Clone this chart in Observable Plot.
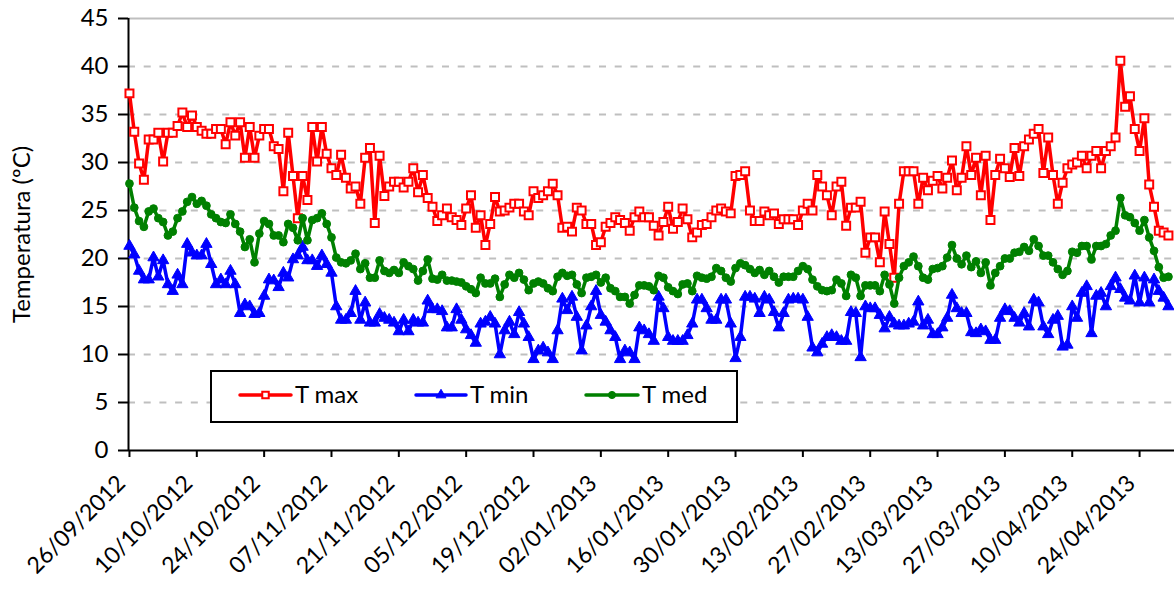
<!DOCTYPE html>
<html>
<head>
<meta charset="utf-8">
<script src="https://cdn.jsdelivr.net/npm/d3@7"></script>
<script src="https://cdn.jsdelivr.net/npm/@observablehq/plot@0.6"></script>
<style>
  html, body { margin: 0; padding: 0; background: #fff; }
  #wrap { position: relative; width: 1174px; height: 589px; font-family: Lato, "Open Sans", sans-serif; }
  #legend { position: absolute; left: 210px; top: 370px; }
</style>
</head>
<body>
<div id="wrap"></div>
<script>
// ---- Data (daily values from 26/09/2012) ----
const startDate = "2012-09-26";
const seriesNames = ["T max", "T min", "T med"];
const seriesColors = ["#FF0000", "#0000FF", "#008000"];
const yTicks = [0, 5, 10, 15, 20, 25, 30, 35, 40, 45];
const tickEveryDays = 14;

const tMax = [
  37.2, 33.2, 29.9, 28.2, 32.4, 32.4, 33.1, 30.1, 33.1, 33.1, 33.8, 35.2, 33.7, 34.9, 33.7, 33.3, 33.0, 33.0, 33.5, 33.5,
  31.9, 34.2, 32.8, 34.2, 30.5, 33.7, 30.5, 32.8, 33.5, 33.5, 31.7, 31.4, 27.0, 33.1, 28.6, 24.2, 28.6, 26.1, 33.7, 30.1,
  33.7, 30.9, 29.4, 28.7, 30.8, 28.4, 27.3, 27.5, 25.7, 30.5, 31.5, 23.7, 30.7, 26.5, 27.5, 28.0, 28.0, 27.4, 28.0, 29.4,
  26.9, 28.7, 26.3, 25.4, 23.9, 24.5, 25.2, 24.3, 24.0, 23.5, 25.2, 26.6,
  23.2, 24.5, 21.4, 23.6, 26.4, 24.9, 25.0, 25.3, 25.7, 25.7, 24.9, 24.5, 27.0, 26.3, 26.6, 27.0, 27.8, 26.6, 23.2, 23.3,
  22.8, 25.3, 25.0, 23.6, 23.6, 21.4, 21.7, 23.3, 23.7, 24.3, 24.0, 23.7,
  22.9, 24.3, 24.9, 24.3, 24.3, 23.4, 22.4, 23.8, 25.4, 23.1, 23.8, 25.2, 24.1, 22.2, 22.7, 23.5, 23.6, 24.3, 25.0, 25.2,
  24.9, 24.7, 28.6, 28.7, 29.1, 25.0, 23.9, 23.9, 24.9, 24.5, 24.7, 23.6, 24.1, 24.1, 24.1,
  23.5, 25.0, 25.7, 25.0, 28.7, 27.5, 26.6, 24.5, 27.5, 28.0, 23.4, 25.3, 25.3, 25.9, 20.6, 22.2, 22.2, 19.6, 24.9, 21.5,
  18.0, 25.7, 29.1, 29.1, 29.1, 25.7, 28.4, 27.1, 28.1, 28.6, 27.3, 28.4, 30.2, 27.1, 28.4, 31.7, 28.7, 30.5, 26.6, 30.7,
  24.0, 28.7, 30.4, 29.4, 28.5, 31.5, 28.6, 31.7, 32.4, 33.0, 33.5, 28.9, 32.6, 28.7, 25.7, 27.9, 29.4, 29.8, 30.0, 30.7,
  29.4, 30.7, 31.2, 29.4, 31.2, 31.7, 32.6, 40.6, 35.8, 36.9, 33.5, 31.2, 34.6, 27.7, 25.4, 22.9, 22.7, 22.4
];

const tMin = [
  21.3, 20.4, 18.7, 17.8, 17.8, 20.1, 18.1, 19.8, 17.3, 16.6, 18.3, 17.3, 21.5, 20.6, 20.3, 20.3, 21.5, 19.4, 17.3, 17.8,
  17.3, 18.7, 17.3,
  14.3, 15.2, 15.0, 14.2, 14.3, 16.1, 17.8, 17.7, 17.0, 18.5, 18.0, 19.9, 20.3, 21.2, 19.8, 19.8, 19.2, 20.3, 19.4, 18.5,
  15.0, 13.6, 13.6, 14.3, 16.6, 13.6, 15.4, 13.3, 13.3, 14.2, 13.8, 13.6, 13.3, 12.4, 13.6, 12.4, 13.6, 13.3, 13.3,
  15.6, 14.7, 14.7, 14.5, 12.8, 12.8, 14.7, 13.6, 12.6, 12.0, 11.2, 13.2, 13.4, 13.9, 13.2, 10.0, 12.5, 13.4, 12.1, 14.4,
  13.2, 11.8, 9.5, 10.4, 10.7, 10.2, 9.5, 12.5, 15.8, 14.6, 16.0, 13.9, 10.4, 13.0, 15.0, 16.6, 14.1, 13.4, 12.5, 11.8,
  9.5, 10.4, 10.2, 9.5, 12.8,
  12.5, 12.1, 11.4, 16.0, 14.8, 11.8, 11.4, 11.4, 11.4, 12.0, 13.2, 15.7, 15.7, 14.8, 13.6, 13.6, 15.7, 15.7, 13.2, 9.6,
  11.8, 16.0, 16.0, 15.8, 14.3, 16.0, 15.7, 14.4, 12.8, 14.3, 15.7, 15.8, 15.8, 15.7, 13.9,
  10.7, 10.2, 11.1, 11.8, 12.0, 11.8, 11.4, 11.4, 14.4, 14.3, 9.7, 15.0, 14.8, 14.8, 14.1, 12.7, 13.9, 13.2,
  13.0, 13.0, 13.2, 13.4, 15.5, 13.0, 13.6, 12.1, 12.1, 12.8, 13.8, 16.2, 14.8, 14.3, 14.3, 12.3, 12.2,
  12.6, 12.4, 11.5, 11.5, 13.8, 14.7, 14.5, 13.8, 13.3, 14.3, 12.9, 15.7, 15.4, 12.9, 12.1, 13.6, 14.0, 10.8, 11.0, 15.0,
  13.8, 16.4, 17.1, 12.2, 16.1, 16.4, 15.0, 17.1, 18.0, 16.8, 15.9, 15.6, 18.2, 15.4, 18.0, 15.4, 17.8, 16.6, 15.9, 15.0
];

const tMed = [
  27.8, 25.3, 23.9, 23.3, 24.9, 25.2, 24.2, 23.8, 22.4, 22.8, 24.2, 24.9, 25.9, 26.4, 25.7, 26.0, 25.5, 24.6, 24.2, 23.8,
  23.7, 24.6, 23.6, 22.8, 21.2, 22.0, 19.6, 22.6, 23.9, 23.6, 22.4, 22.4, 21.7, 23.6, 23.2, 21.9,
  24.2, 21.9, 24.0, 24.2, 24.7, 23.6, 22.2, 20.1, 19.6, 19.5, 19.8, 20.5, 18.9, 19.5, 18.0, 18.0, 19.8, 18.7, 18.5, 18.8,
  18.5, 19.6, 19.2, 18.9, 17.7, 18.7, 19.9, 17.9, 17.8, 18.3, 17.7, 17.7, 17.6, 17.5, 17.1, 16.8,
  16.4, 18.0, 17.4, 17.4, 17.9, 16.0, 17.3, 18.3, 18.0, 18.5, 17.8, 16.7, 17.4, 17.6, 17.4, 16.9, 16.6, 18.1, 18.5, 18.2,
  18.3, 17.3, 16.4, 18.0, 18.1, 18.3, 17.5, 18.0, 16.9, 16.6, 16.0, 16.0, 15.3, 16.2, 17.2,
  17.2, 17.1, 16.7, 18.2, 18.0, 17.0, 16.6, 16.3, 17.3, 17.4, 16.6, 18.2, 18.0, 17.9, 18.1, 19.0, 18.7, 18.0, 17.6, 19.0,
  19.5, 19.3, 18.9, 18.5, 18.8, 18.3, 18.7, 18.1, 17.5, 18.1, 18.1, 18.1, 18.7, 19.2,
  18.9, 17.8, 17.1, 16.7, 16.6, 16.7, 17.8, 17.4, 16.1, 18.3, 18.0, 16.1, 17.2, 17.2, 17.2, 16.6, 18.3, 17.3, 15.3, 18.0,
  19.2, 19.6, 20.2, 19.2, 18.0, 17.8, 18.9, 19.0,
  19.2, 20.1, 21.4, 20.0, 19.4, 20.3, 19.1, 19.7, 18.5, 19.6, 17.2, 18.5, 19.2, 20.0, 20.0, 20.6, 20.7, 21.2, 20.8, 22.0,
  21.3, 20.3, 20.3, 19.6, 18.9, 18.3, 18.7, 20.7, 20.6, 21.3, 21.3, 19.9, 21.3, 21.3, 21.5, 22.4, 22.9, 26.3, 24.5, 24.3,
  23.7, 22.9, 24.0, 22.2, 20.8, 19.1, 18.0, 18.1
];

// ---- Build ----
const DAY = 864e5;
const t0 = Date.parse(startDate + "T00:00:00Z");
const toRows = (vals) => vals.map((v, i) => ({date: new Date(t0 + i * DAY), value: v}));
const rowsMax = toRows(tMax), rowsMin = toRows(tMin), rowsMed = toRows(tMed);
const nDays = Math.max(tMax.length, tMin.length, tMed.length);
const xTicks = d3.range(0, nDays - 5, tickEveryDays).map(i => new Date(t0 + i * DAY));
const fmt = d3.utcFormat("%d/%m/%Y");
const xDomain = [new Date(t0 - 0.2 * DAY), new Date(t0 + (nDays + 0.26) * DAY)];
const FONT = "Lato, 'Open Sans', sans-serif";

const chart = Plot.plot({
  width: 1174,
  height: 589,
  marginLeft: 128,
  marginRight: 0,
  marginTop: 18,
  marginBottom: 139,
  style: {fontFamily: FONT, fontSize: "23px", color: "#000", background: "#fff", overflow: "visible"},
  x: {type: "utc", domain: xDomain},
  y: {domain: [0, 45]},
  marks: [
    Plot.ruleY(yTicks.filter(v => v > 0 && v < 45), {stroke: "#BFBFBF", strokeWidth: 2, strokeDasharray: "7,8.7"}),
    Plot.ruleY([45], {stroke: "#BFBFBF", strokeWidth: 2}),
    Plot.axisY({ticks: yTicks, tickSize: 10, tickPadding: 10, label: null, fontSize: 24, strokeWidth: 2}),
    // x tick marks only
    Plot.axisX({ticks: xTicks, tickFormat: null, fill: "none", tickSize: 7, label: null, strokeWidth: 2}),
    // x tick labels only (rotated)
    Plot.axisX({ticks: xTicks, tickFormat: fmt, stroke: "none", tickRotate: -45, tickSize: 7, tickPadding: 22, dx: -8, label: null, fontSize: 23}),
    Plot.ruleY([0], {stroke: "#000", strokeWidth: 2}),
    Plot.ruleX([xDomain[0]], {y1: 0, y2: 45, stroke: "#000", strokeWidth: 2}),
    Plot.text(["Temperatura (ºC)"], {frameAnchor: "left", dx: -106, rotate: -90, textAnchor: "middle", fontSize: 24, fill: "#000"}),
    // T max
    Plot.line(rowsMax, {x: "date", y: "value", stroke: seriesColors[0], strokeWidth: 3.5}),
    Plot.dot(rowsMax, {x: "date", y: "value", symbol: "square", r: 4.5, stroke: seriesColors[0], strokeWidth: 2, fill: "#fff"}),
    // T min
    Plot.line(rowsMin, {x: "date", y: "value", stroke: seriesColors[1], strokeWidth: 3.5}),
    Plot.dot(rowsMin, {x: "date", y: "value", symbol: "triangle", r: 4.2, fill: seriesColors[1], stroke: seriesColors[1], strokeWidth: 1}),
    // T med
    Plot.line(rowsMed, {x: "date", y: "value", stroke: seriesColors[2], strokeWidth: 3.5}),
    Plot.dot(rowsMed, {x: "date", y: "value", symbol: "circle", r: 3.9, fill: seriesColors[2], stroke: seriesColors[2], strokeWidth: 1})
  ]
});

const wrap = document.getElementById("wrap");
wrap.appendChild(chart);

// ---- Legend (overlay inside plot area) ----
const lg = d3.select(wrap).append("svg").attr("id", "legend")
  .attr("width", 528).attr("height", 54)
  .style("font-family", FONT);
lg.append("rect").attr("x", 1).attr("y", 1).attr("width", 526).attr("height", 51)
  .attr("fill", "#fff").attr("stroke", "#000").attr("stroke-width", 2);
const entries = [
  {x0: 30, x1: 81, tx: 85, sym: d3.symbolSquare, size: 42},
  {x0: 206, x1: 256, tx: 260, sym: d3.symbolTriangle, size: 42},
  {x0: 376, x1: 428, tx: 432, sym: d3.symbolCircle, size: 40}
];
entries.forEach((e, i) => {
  const g = lg.append("g");
  g.append("line").attr("x1", e.x0).attr("x2", e.x1).attr("y1", 25).attr("y2", 25)
    .attr("stroke", seriesColors[i]).attr("stroke-width", 3.5).attr("stroke-linecap", "round");
  g.append("path").attr("d", d3.symbol(e.sym, e.size)())
    .attr("transform", `translate(${(e.x0 + e.x1) / 2},25)`)
    .attr("fill", i === 0 ? "#fff" : seriesColors[i]).attr("stroke", seriesColors[i]).attr("stroke-width", i === 0 ? 2 : 1);
  g.append("text").attr("x", e.tx).attr("y", 25).attr("dy", "0.35em")
    .attr("font-size", 24).attr("fill", "#000").text(seriesNames[i]);
});
</script>
</body>
</html>
